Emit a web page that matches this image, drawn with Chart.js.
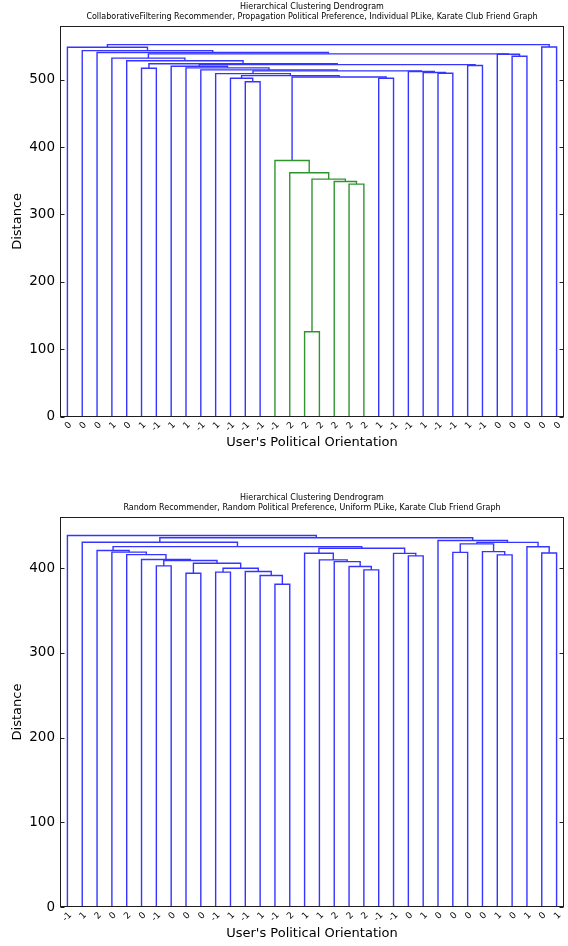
<!DOCTYPE html>
<html>
<head>
<meta charset="utf-8">
<script src="https://cdn.jsdelivr.net/npm/chart.js@4.4.0/dist/chart.umd.min.js"></script>
<style>
  html, body { margin: 0; padding: 0; background: #fff; }
  .panel { position: absolute; left: 0; width: 568px; height: 473px; }
  #panelTop { top: 0; }
  #panelBottom { top: 473px; }
  canvas { display: block; }
</style>
</head>
<body>
<div class="panel" id="panelTop"><canvas id="cfChart" width="568" height="473"></canvas></div>
<div class="panel" id="panelBottom"><canvas id="rndChart" width="568" height="473"></canvas></div>
<script>
// ---- text ----
const mainTitle = 'Hierarchical Clustering Dendrogram';
const cfSubtitle = 'CollaborativeFiltering Recommender, Propagation Political Preference, Individual PLike, Karate Club Friend Graph';
const rndSubtitle = 'Random Recommender, Random Political Preference, Uniform PLike, Karate Club Friend Graph';
const xAxisTitle = "User's Political Orientation";
const yAxisTitle = 'Distance';

// ---- collaborative filtering run ----
// leaf labels (political orientation of each user), in leaf order
const cfLeafLabels = ['0','0','0','1','0','1','-1','1','1','-1','1','-1','-1','-1','-1','2','2','2','2','2','2','1','-1','-1','1','-1','-1','1','-1','0','0','0','0','0'];
// merges: [left, right]; ids < 34 are leaves, id 34 + k is merge k
const cfMerges = [
  [16,17],[19,20],[18,35],[34,36],[15,37],[14,38],[12,13],[11,40],[21,22],[39,42],
  [41,43],[10,44],[25,26],[24,46],[23,47],[45,48],[9,49],[5,6],[8,50],[7,52],
  [27,28],[53,54],[51,55],[4,56],[3,57],[30,31],[29,59],[58,60],[2,61],[1,62],
  [0,63],[32,33],[64,65]
];
const cfHeights = [
  126,345,349,352.5,362,380,497,502,502,504,
  506,509,509.5,510.7,512,513,514.5,517,517.5,520,
  521,522.3,523.7,528,532,534.7,537.8,538.3,540.2,543,
  548,548.5,552
];
const cfYTicks = [0,100,200,300,400,500];

// ---- random run ----
const rndLeafLabels = ['-1','1','2','0','2','0','-1','0','0','0','-1','1','-1','1','-1','2','1','1','2','2','2','-1','-1','0','1','0','0','0','0','1','0','1','0','1'];
const rndMerges = [
  [14,15],[13,34],[8,9],[10,11],[12,35],[20,21],[37,38],[19,39],[6,7],[36,40],
  [18,41],[42,43],[17,44],[5,45],[23,24],[29,30],[4,47],[16,46],[22,48],[32,33],
  [3,50],[26,27],[28,49],[2,54],[51,52],[57,58],[31,53],[55,56],[1,59],[61,60],
  [25,63],[62,64],[0,65]
];
const rndHeights = [
  381,391.3,394.1,395.3,396,398,400,401.9,402.7,405.9,
  407.8,409,409.8,410.3,414.5,415.7,416,417.7,417.5,417.9,
  418.9,418.7,419.6,420.8,423.6,425.5,425.3,428.7,430.7,430.5,
  432.6,436,438.5
];
const rndYTicks = [0,100,200,300,400];

// ---- styling ----
const FONT = 'DejaVu Sans';
const aboveColor = '#3535ff';
const clusterPalette = ['#2f942f', '#e03030', '#20b0b0', '#c040c0', '#c0c020', '#222222'];

// Lay out a dendrogram: leaves at 5, 15, 25, ...; each link is a U shape.
function buildDendrogram(merges, heights, nLeaves) {
  const total = nLeaves + merges.length;
  const xs = new Array(total);
  const hs = new Array(total).fill(0);
  const leafOrder = [];
  function place(id) {
    if (id < nLeaves) { xs[id] = 10 * leafOrder.length + 5; leafOrder.push(id); return; }
    const [a, b] = merges[id - nLeaves];
    place(a); place(b);
    xs[id] = (xs[a] + xs[b]) / 2;
    hs[id] = heights[id - nLeaves];
  }
  place(total - 1);

  // links below 70% of the tallest merge take a cluster colour
  const threshold = 0.7 * Math.max(...heights);
  const colors = new Array(merges.length).fill(aboveColor);
  let next = 0;
  function paint(id, c) {
    if (id < nLeaves) return;
    colors[id - nLeaves] = c;
    merges[id - nLeaves].forEach(ch => paint(ch, c));
  }
  function assign(id) {
    if (id < nLeaves) return;
    if (hs[id] < threshold) { paint(id, clusterPalette[next++ % clusterPalette.length]); return; }
    merges[id - nLeaves].forEach(assign);
  }
  assign(total - 1);

  const datasets = merges.map((m, k) => {
    const id = nLeaves + k, [a, b] = m;
    return {
      data: [
        { x: xs[a], y: hs[a] }, { x: xs[a], y: hs[id] },
        { x: xs[b], y: hs[id] }, { x: xs[b], y: hs[b] }
      ],
      showLine: true, borderColor: colors[k], borderWidth: 1.4,
      pointRadius: 0, fill: false, tension: 0
    };
  });
  return { datasets, leafOrder, maxHeight: Math.max(...heights) };
}

// Frame, inward y tick marks and the two-line heading above the plot.
const framePlugin = {
  id: 'frame',
  afterDraw(chart, args, opts) {
    const { ctx, chartArea: a } = chart;
    ctx.save();
    ctx.strokeStyle = '#1e1e1e';
    ctx.lineWidth = 1;
    const l = Math.round(a.left) + 0.5, r = Math.round(a.right) - 0.5;
    const t = Math.round(a.top) + 0.5, b = Math.round(a.bottom) - 0.5;
    ctx.strokeRect(l, t, r - l, b - t);
    ctx.beginPath();
    opts.yTicks.forEach(v => {
      const y = Math.round(chart.scales.y.getPixelForValue(v)) + 0.5;
      ctx.moveTo(l, y); ctx.lineTo(l + 4, y);
      ctx.moveTo(r - 4, y); ctx.lineTo(r, y);
    });
    ctx.stroke();
    ctx.fillStyle = '#000';
    ctx.font = '8px "' + FONT + '"';
    ctx.textAlign = 'center';
    ctx.textBaseline = 'middle';
    const cx = (a.left + a.right) / 2;
    ctx.fillText(opts.lines[0], cx, a.top - 19);
    ctx.fillText(opts.lines[1], cx, a.top - 9);
    ctx.restore();
  }
};

function drawDendrogram(canvasId, leafLabels, merges, heights, yTicks, subtitle, frame) {
  const n = leafLabels.length;
  const tree = buildDendrogram(merges, heights, n);
  const leafTicks = tree.leafOrder.map((id, i) => 10 * i + 5);
  return new Chart(document.getElementById(canvasId), {
    type: 'scatter',
    data: { datasets: tree.datasets },
    options: {
      responsive: false,
      animation: false,
      devicePixelRatio: 1,
      events: [],
      layout: { padding: { top: frame.top, left: 0, right: 4, bottom: 0 } },
      plugins: {
        legend: { display: false },
        tooltip: { enabled: false },
        frame: { yTicks: yTicks, lines: [mainTitle, subtitle] }
      },
      scales: {
        x: {
          type: 'linear', min: 0, max: 10 * n,
          afterBuildTicks: s => { s.ticks = leafTicks.map(v => ({ value: v })); },
          afterFit: s => { s.height = frame.xHeight; },
          grid: { display: false, drawTicks: false },
          border: { display: false },
          ticks: {
            autoSkip: false, minRotation: 45, maxRotation: 45,
            padding: 3, labelOffset: 3, color: '#000',
            font: { family: FONT, size: 9 },
            callback: (v, i) => leafLabels[tree.leafOrder[i]]
          },
          title: {
            display: true, text: xAxisTitle, color: '#000',
            font: { family: FONT, size: 13 },
            padding: { top: 0, bottom: frame.xTitlePad }
          }
        },
        y: {
          type: 'linear', min: 0, max: 1.05 * tree.maxHeight,
          afterBuildTicks: s => { s.ticks = yTicks.map(v => ({ value: v })); },
          afterFit: s => { s.width = 60; },
          grid: { display: false, drawTicks: false },
          border: { display: false },
          ticks: { padding: 5, color: '#000', font: { family: FONT, size: 13.5 } },
          title: {
            display: true, text: yAxisTitle, color: '#000',
            font: { family: FONT, size: 13 },
            padding: { top: 10, bottom: 0 }
          }
        }
      }
    },
    plugins: [framePlugin]
  });
}

drawDendrogram('cfChart', cfLeafLabels, cfMerges, cfHeights, cfYTicks, cfSubtitle,
  { top: 26, xHeight: 56.3, xTitlePad: 22.5 });
drawDendrogram('rndChart', rndLeafLabels, rndMerges, rndHeights, rndYTicks, rndSubtitle,
  { top: 44, xHeight: 39, xTitlePad: 5 });
</script>
</body>
</html>
